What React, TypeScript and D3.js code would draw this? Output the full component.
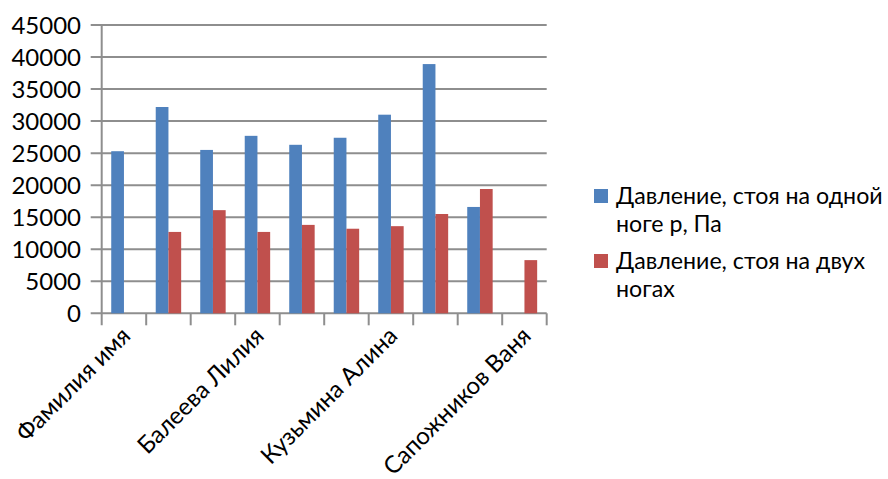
import React from "react";
import * as d3 from "d3";

// Student names (only some appear along the axis)
const categories: string[] = [
  "Фамилия имя", "", "", "Балеева Лилия", "", "", "Кузьмина Алина", "", "", "Сапожников Ваня",
];
// Pressure standing on one foot, Pa (null = no value)
const oneFoot: (number | null)[] = [25300, 32200, 25500, 27700, 26300, 27400, 31000, 38900, 16600, null];
// Pressure standing on both feet, Pa
const twoFeet: (number | null)[] = [null, 12700, 16100, 12700, 13800, 13200, 13600, 15500, 19400, 8300];
const yTicks: number[] = [0, 5000, 10000, 15000, 20000, 25000, 30000, 35000, 40000, 45000];
const labelEvery = 3;

const seriesNames: string[][] = [
  ["Давление, стоя на одной", "ноге р, Па"],
  ["Давление, стоя на двух", "ногах"],
];
const colors = ["#4F81BD", "#C0504D"];

const W = 888;
const H = 479;
const plot = { left: 101.7, right: 546.7, top: 25, bottom: 313.3 };
const FONT = "Lato, 'Open Sans', sans-serif";
const FS = 24;
const LEGEND_FS = 23.2;

export default function App() {
  const idx = categories.map((_, i) => i);
  const x = d3.scaleBand<number>().domain(idx).range([plot.left, plot.right]).paddingInner(0).paddingOuter(0);
  const y = d3.scaleLinear().domain([0, 45000]).range([plot.bottom, plot.top]);
  const bw = x.bandwidth();
  const barW = bw / 3.5;
  const gap = (bw - 2 * barW) / 2;
  const series = [oneFoot, twoFeet];
  const grid = "#8e8e8e";

  return (
    <div style={{ position: "absolute", left: 0, top: 0 }}>
      <svg width={W} height={H} style={{ display: "block", background: "#fff" }}>
        {yTicks.map((t) => (
          <g key={t}>
            <line x1={plot.left - 11} x2={plot.right} y1={y(t)} y2={y(t)} stroke={grid} strokeWidth={2} />
            <text x={81} y={y(t)} dy="0.36em" textAnchor="end" fontFamily={FONT} fontSize={FS} fill="#000">
              {t}
            </text>
          </g>
        ))}
        <line x1={plot.left} x2={plot.left} y1={plot.top} y2={plot.bottom + 12} stroke={grid} strokeWidth={2} />
        {d3.range(1, categories.length + 1).map((i) => {
          const xx = plot.left + i * bw;
          return <line key={i} x1={xx} x2={xx} y1={plot.bottom} y2={plot.bottom + 12} stroke={grid} strokeWidth={2} />;
        })}
        {series.map((vals, s) =>
          vals.map((v, i) =>
            v == null ? null : (
              <rect
                key={`${s}-${i}`}
                x={(x(i) as number) + gap + s * barW}
                y={y(v)}
                width={barW}
                height={y(0) - y(v)}
                fill={colors[s]}
              />
            )
          )
        )}
        {categories.map((c, i) =>
          i % labelEvery === 0 && c ? (
            <text
              key={i}
              transform={`translate(${(x(i) as number) + bw / 2 + 8},${plot.bottom + 24}) rotate(-45)`}
              textAnchor="end"
              fontFamily={FONT}
              fontSize={FS}
              fill="#000"
            >
              {c}
            </text>
          ) : null
        )}
        {seriesNames.map((lines, s) => {
          const base = s === 0 ? 204 : 269;
          return (
            <g key={s}>
              <rect x={594} y={base - 15} width={14} height={14} fill={colors[s]} />
              {lines.map((ln, k) => (
                <text key={k} x={616} y={base + k * 28} fontFamily={FONT} fontSize={LEGEND_FS} fill="#000">
                  {ln}
                </text>
              ))}
            </g>
          );
        })}
      </svg>
    </div>
  );
}
